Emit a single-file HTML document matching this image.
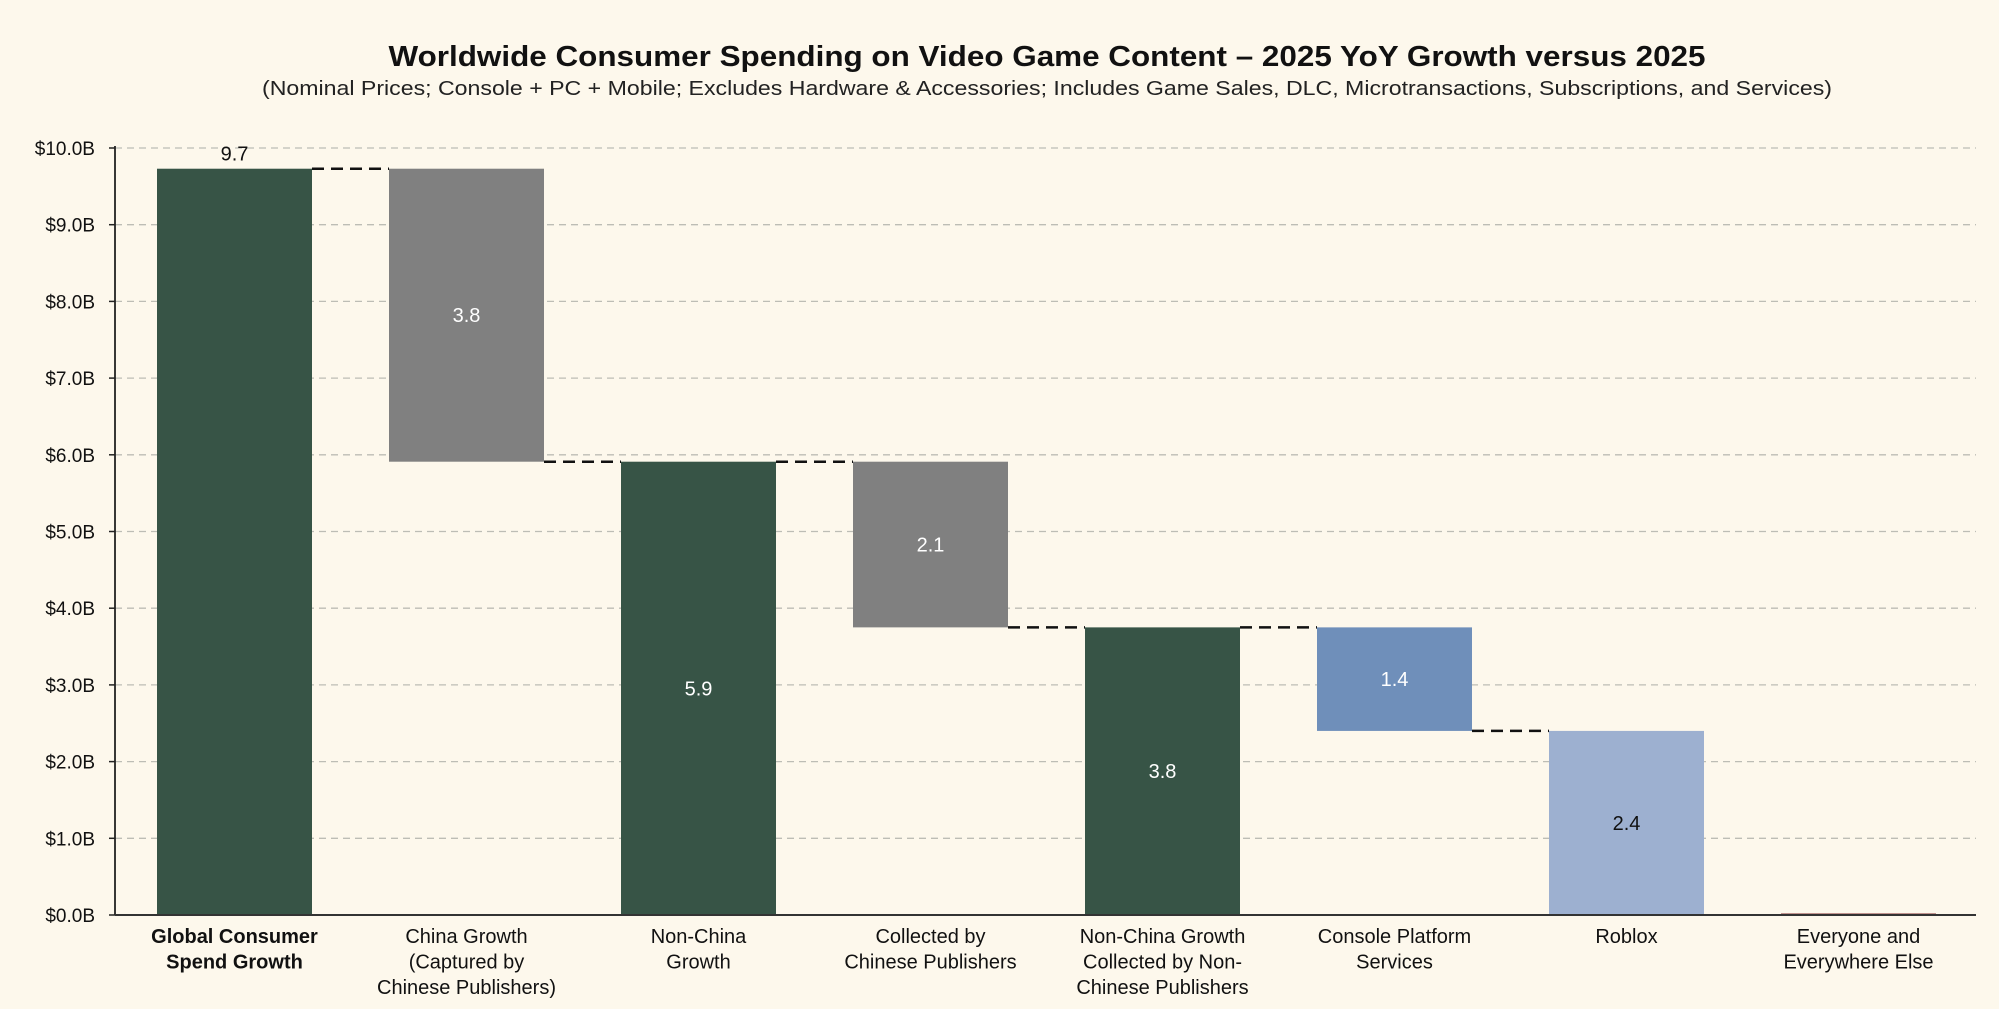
<!DOCTYPE html>
<html><head><meta charset="utf-8"><style>
html,body{margin:0;padding:0;background:#fdf8ec;}
svg{display:block;font-family:"Liberation Sans",sans-serif;}
</style></head><body>
<svg id="chart" width="1999" height="1009" viewBox="0 0 1999 1009">
<rect width="1999" height="1009" fill="#fdf8ec"/>
<text x="1047" y="66" text-anchor="middle" font-size="29" font-weight="bold" fill="#111" textLength="1317" lengthAdjust="spacingAndGlyphs">Worldwide Consumer Spending on Video Game Content – 2025 YoY Growth versus 2025</text>
<text x="1047" y="95" text-anchor="middle" font-size="20" fill="#222" textLength="1570" lengthAdjust="spacingAndGlyphs">(Nominal Prices; Console + PC + Mobile; Excludes Hardware &amp; Accessories; Includes Game Sales, DLC, Microtransactions, Subscriptions, and Services)</text>
<g id="grid"></g><g id="bars"></g><g id="axes"></g>
</svg>
<script>
const categories=[["Global Consumer","Spend Growth"],["China Growth","(Captured by","Chinese Publishers)"],["Non-China","Growth"],["Collected by","Chinese Publishers"],["Non-China Growth","Collected by Non-","Chinese Publishers"],["Console Platform","Services"],["Roblox"],["Everyone and","Everywhere Else"]];
const values=[9.73,3.82,5.91,2.16,3.75,1.35,2.40,0.02];
const kinds=["total","drop","total","drop","total","drop","drop","drop"];
const valueLabels=["9.7","3.8","5.9","2.1","3.8","1.4","2.4",""];
const yTicks=[0,1,2,3,4,5,6,7,8,9,10];
const colors=["#375446","#808080","#375446","#808080","#375446","#6f8fba","#9db0d0","#8b3a3a"];
const NS="http://www.w3.org/2000/svg";
const x0=115,x1=1976,yZero=915,yTop=148;
const y=v=>yZero-(v/10)*(yZero-yTop);
const step=232,barW=155,firstX=157;
const bx=i=>firstX+i*step;
function mk(tag,attrs,parent){const e=document.createElementNS(NS,tag);for(const k in attrs)e.setAttribute(k,attrs[k]);parent.appendChild(e);return e;}
const grid=document.getElementById('grid'),bars=document.getElementById('bars'),axes=document.getElementById('axes');
yTicks.forEach(t=>{
  if(t>0){const g=mk('line',{x1:x0,x2:x1,y1:y(t),y2:y(t),stroke:'#bdbdb5','stroke-width':1.3,'stroke-dasharray':'7,5'},grid);
  
  }
  const tk=mk('line',{x1:x0-6,x2:x0,y1:y(t),y2:y(t),stroke:'#222','stroke-width':1.5},axes);
  
  
  const tl=mk('text',{x:x0-20,y:y(t)+7,'text-anchor':'end','font-size':19,fill:'#111'},axes);
  tl.textContent='$'+t.toFixed(1)+'B';
  
  
});
let level=0,prevTop=null;
values.forEach((v,i)=>{
  let top,bot;
  if(kinds[i]==='total'){top=v;bot=0;level=v;}else{top=level;bot=level-v;level=bot;}
  if(i===values.length-1){top=v;bot=0;}
  const r=mk('rect',{x:bx(i),y:y(top),width:barW,height:Math.max(2,y(bot)-y(top)),fill:colors[i]},bars);
  
  
  if(i>0&&i<values.length-1){
    const c=mk('line',{x1:bx(i-1)+barW,x2:bx(i),y1:y(prevTop),y2:y(prevTop),stroke:'#111','stroke-width':2.5,'stroke-dasharray':'12,7'},bars);
    
    
  }
  if(i<values.length-1) prevTop = kinds[i]==='total'?top:bot;
  if(i===values.length-2) prevTop=top;
  if(valueLabels[i]){
    const ly=i===0?y(top)-8:(y(top)+y(bot))/2+7;
    const t=mk('text',{x:bx(i)+barW/2,y:ly,'text-anchor':'middle','font-size':20,fill:(i===0||i===6)?'#111':'#fff'},bars);
    t.textContent=valueLabels[i];
    
    
  }
  categories[i].forEach((ln,j)=>{
    const t=mk('text',{x:bx(i)+barW/2,y:943+j*25.5,'text-anchor':'middle','font-size':20,fill:'#111','font-weight':i===0?'bold':'normal'},axes);
    t.textContent=ln;
    
    
  });
});
const ya=mk('line',{x1:x0,x2:x0,y1:yTop-2,y2:yZero,stroke:'#222','stroke-width':1.8},axes);


const xa=mk('line',{x1:x0,x2:x1,y1:yZero,y2:yZero,stroke:'#333','stroke-width':2},axes);


</script>
</body></html>
